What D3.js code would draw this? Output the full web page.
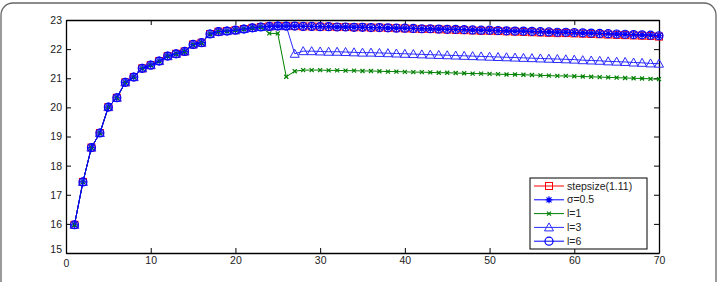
<!DOCTYPE html>
<html>
<head>
<meta charset="utf-8">
<script src="https://cdn.jsdelivr.net/npm/d3@7"></script>
<style>
  body { margin: 0; background: #fff; }
  svg { display: block; font-family: "Liberation Sans", Arial, sans-serif; }
</style>
</head>
<body>
<svg width="719" height="282"></svg>
<script>
// iterations 1..70
var iters = d3.range(1, 71);

// shared start of all runs (iterations 1..23)
var common = [15.97, 17.44, 18.62, 19.12, 20.01, 20.33, 20.86, 21.04, 21.34, 21.45,
              21.59, 21.76, 21.84, 21.92, 22.16, 22.22, 22.52, 22.60, 22.62, 22.65,
              22.69, 22.73, 22.76];

// tails from iteration 24 on
var topTail = [22.78, 22.79, 22.79, 22.79, 22.78, 22.78, 22.77, 22.77, 22.76, 22.76,
               22.75, 22.75, 22.74, 22.74, 22.73, 22.72, 22.72, 22.71, 22.70, 22.70,
               22.69, 22.68, 22.68, 22.67, 22.66, 22.65, 22.65, 22.64, 22.63, 22.62,
               22.62, 22.61, 22.60, 22.59, 22.58, 22.58, 22.57, 22.56, 22.55, 22.54,
               22.53, 22.52, 22.51, 22.50, 22.49, 22.48, 22.46];
var stepTail = [22.78, 22.79, 22.79, 22.79, 22.78, 22.78, 22.77, 22.77, 22.76, 22.76,
                22.75, 22.75, 22.74, 22.74, 22.73, 22.72, 22.71, 22.70, 22.69, 22.69,
                22.68, 22.67, 22.66, 22.65, 22.64, 22.63, 22.63, 22.62, 22.61, 22.60,
                22.59, 22.58, 22.57, 22.56, 22.55, 22.55, 22.54, 22.53, 22.52, 22.51,
                22.50, 22.49, 22.48, 22.47, 22.46, 22.45, 22.43];
var l1Tail = [22.54, 22.54, 21.05, 21.24,
              21.28, 21.28, 21.28, 21.27, 21.27, 21.26, 21.26, 21.25, 21.25, 21.24,
              21.23, 21.23, 21.22, 21.21, 21.21, 21.20, 21.19, 21.19, 21.18, 21.17,
              21.16, 21.16, 21.15, 21.14, 21.13, 21.13, 21.12, 21.11, 21.10, 21.09,
              21.08, 21.08, 21.07, 21.06, 21.05, 21.04, 21.03, 21.02, 21.01, 21.00,
              20.99, 20.98, 20.97];
var l3Tail = [22.78, 22.79, 22.79, 21.84,
              21.93, 21.93, 21.92, 21.91, 21.91, 21.90, 21.89, 21.88, 21.88, 21.87,
              21.86, 21.85, 21.84, 21.83, 21.82, 21.81, 21.80, 21.79, 21.78, 21.77,
              21.76, 21.75, 21.74, 21.73, 21.72, 21.71, 21.70, 21.69, 21.68, 21.67,
              21.66, 21.65, 21.64, 21.62, 21.61, 21.60, 21.58, 21.57, 21.56, 21.54,
              21.53, 21.51, 21.50];

var stepsize = common.concat(stepTail);
var sigma = common.concat(topTail);
var l1 = common.concat(l1Tail);
var l3 = common.concat(l3Tail);
var l6 = common.concat(topTail);

var seriesNames = ["stepsize(1.11)", "\u03c3=0.5", "l=1", "l=3", "l=6"];
var seriesVals = [stepsize, sigma, l1, l3, l6];
var seriesColors = ["#ff0000", "#0000ff", "#008000", "#2a2aff", "#0000ff"];
var seriesMarks = ["square", "star", "cross", "triangle", "circle"];

var xTicks = [0, 10, 20, 30, 40, 50, 60, 70];
var yTicks = [15, 16, 17, 18, 19, 20, 21, 22, 23];

var svg = d3.select("svg");

// outer rounded frame
svg.append("rect").attr("x", 1).attr("y", 3).attr("width", 715).attr("height", 320)
  .attr("rx", 12).attr("ry", 12).attr("fill", "none").attr("stroke", "#666").attr("stroke-width", 1.3);

var L = 66, R = 659, T = 20, B = 253;
var x = d3.scaleLinear().domain([0, 70]).range([L, R]);
var y = d3.scaleLinear().domain([15, 23]).range([B, T]);

// axes (matlab box style, inward ticks)
var gx = svg.append("g").attr("transform", "translate(0," + B + ")")
  .call(d3.axisBottom(x).tickValues(xTicks).tickSizeInner(-5).tickSizeOuter(0).tickPadding(4));
var gxt = svg.append("g").attr("transform", "translate(0," + T + ")")
  .call(d3.axisTop(x).tickValues(xTicks).tickSizeInner(-5).tickSizeOuter(0).tickFormat(""));
var gy = svg.append("g").attr("transform", "translate(" + L + ",0)")
  .call(d3.axisLeft(y).tickValues(yTicks).tickSizeInner(-5).tickSizeOuter(0).tickPadding(4));
var gyr = svg.append("g").attr("transform", "translate(" + R + ",0)")
  .call(d3.axisRight(y).tickValues(yTicks).tickSizeInner(-5).tickSizeOuter(0).tickFormat(""));
[gx, gxt, gy, gyr].forEach(function(g){
  g.select(".domain").attr("stroke", "#000").attr("stroke-width", 1.3);
  g.selectAll(".tick line").attr("stroke", "#000");
  g.selectAll(".tick text").attr("font-size", 10.5).attr("fill", "#222")
    .attr("font-family", "Liberation Sans, Arial, sans-serif");
});
gy.selectAll(".tick text").filter(function(d){ return d === 15; }).attr("dy", "-0.05em");
gx.selectAll(".tick text").filter(function(d){ return d === 0; }).attr("dy", "0.95em");

var line = d3.line().x(function(d, i){ return x(iters[i]); }).y(function(d){ return y(d); });

function marker(g, kind, color, cx, cy) {
  if (kind === "square") {
    g.append("rect").attr("x", cx - 3.5).attr("y", cy - 3.5).attr("width", 7).attr("height", 7)
      .attr("fill", "none").attr("stroke", color).attr("stroke-width", 1);
  } else if (kind === "star") {
    // matlab '*' asterisk
    g.append("path").attr("d", "M-3.5,0L3.5,0M0,-3.5L0,3.5M-2.5,-2.5L2.5,2.5M-2.5,2.5L2.5,-2.5")
      .attr("transform", "translate(" + cx + "," + cy + ")")
      .attr("fill", "none").attr("stroke", color).attr("stroke-width", 1.2);
  } else if (kind === "cross") {
    g.append("path").attr("d", "M-2,-2L2,2M-2,2L2,-2").attr("transform", "translate(" + cx + "," + cy + ")")
      .attr("fill", "none").attr("stroke", color).attr("stroke-width", 1.2);
  } else if (kind === "triangle") {
    g.append("path").attr("d", "M0,-4.5L4.5,3.5L-4.5,3.5Z").attr("transform", "translate(" + cx + "," + cy + ")")
      .attr("fill", "none").attr("stroke", color).attr("stroke-width", 1);
  } else {
    g.append("circle").attr("cx", cx).attr("cy", cy).attr("r", 4)
      .attr("fill", "none").attr("stroke", color).attr("stroke-width", 1.2);
  }
}

seriesVals.forEach(function(vals, k){
  var g = svg.append("g");
  g.append("path").datum(vals).attr("d", line).attr("fill", "none")
    .attr("stroke", seriesColors[k]).attr("stroke-width", 1);
  vals.forEach(function(v, i){ marker(g, seriesMarks[k], seriesColors[k], x(iters[i]), y(v)); });
});

// legend
var lg = svg.append("g");
lg.append("rect").attr("x", 530).attr("y", 178).attr("width", 117).attr("height", 71)
  .attr("fill", "#fff").attr("stroke", "#000").attr("stroke-width", 1);
seriesNames.forEach(function(name, k){
  var ly = 186 + k * 13.8;
  lg.append("line").attr("x1", 534).attr("x2", 564).attr("y1", ly).attr("y2", ly)
    .attr("stroke", seriesColors[k]).attr("stroke-width", 1);
  marker(lg, seriesMarks[k], seriesColors[k], 549, ly);
  lg.append("text").attr("x", 567).attr("y", ly).attr("dy", "0.35em")
    .attr("font-size", 10.5).attr("fill", "#222").text(name);
});
</script>
</body>
</html>
